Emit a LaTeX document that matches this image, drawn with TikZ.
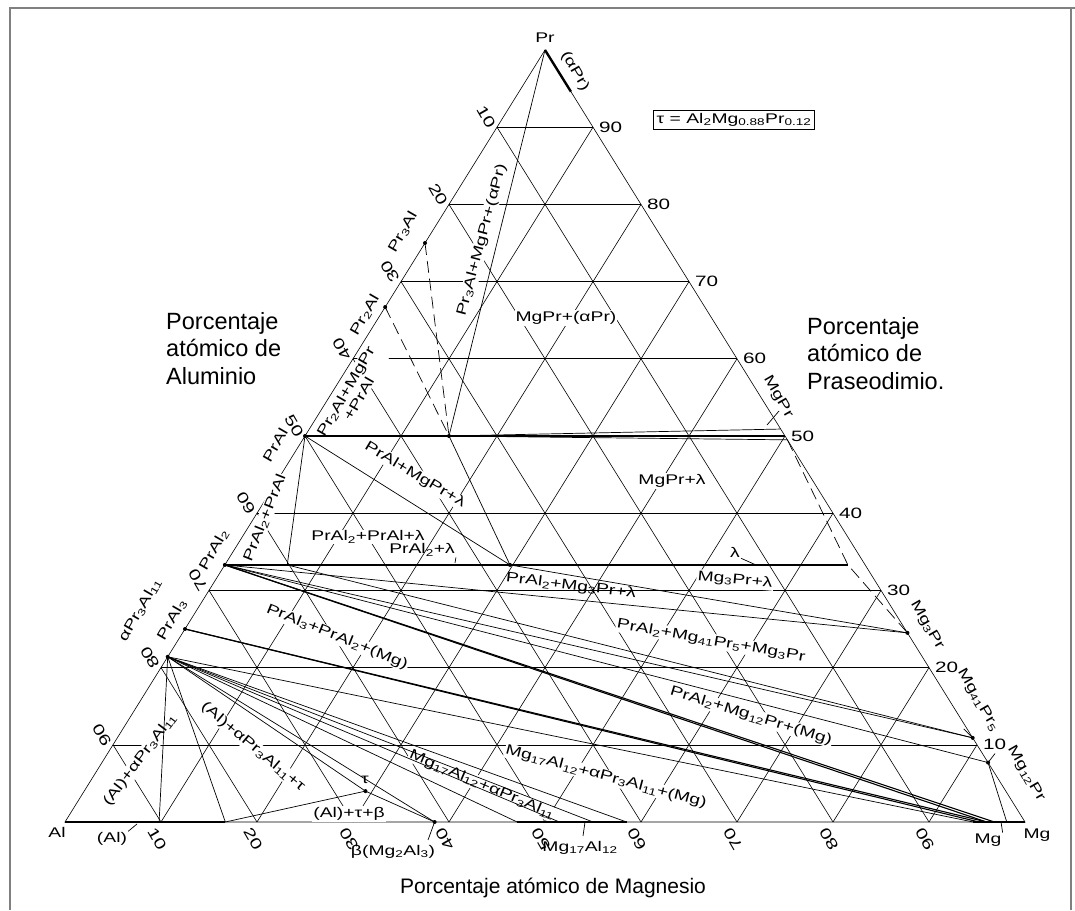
\documentclass[tikz,border=0pt]{standalone}
\usepackage{fontspec}
\setmainfont{Liberation Sans}
\newfontfamily\lblfont[FakeStretch=1.38]{Liberation Sans}
\usetikzlibrary{calc}

\tikzset{
  tern/.style={shift={(65,88)}, x={(9.6pt,0pt)}, y={(4.8pt,7.72pt)}},
  gridline/.style={line width=0.6pt},
  phase/.style={line width=0.7pt},
  solvus/.style={line width=2.4pt},
  dashline/.style={line width=0.7pt, dash pattern=on 12pt off 6pt},
  lbl/.style={font=\lblfont\fontsize{14}{15}\selectfont, inner sep=1pt, fill=white},
  num/.style={font=\lblfont\fontsize{15}{16}\selectfont, inner sep=1pt},
  title/.style={font=\fontsize{23.5}{27.5}\selectfont, align=left, inner sep=0pt},
}

\begin{document}
\begin{tikzpicture}[x=1pt,y=1pt]
\useasboundingbox (0,0) rectangle (1075,910);
% frame of the figure
\draw[black!50, line width=1.2pt] (10,0) -- (10,902) -- (1075,902);
\draw[black!50, line width=1.2pt] (1071,902) -- (1071,0);

\begin{scope}[tern]
  % corners and phases (Mg, Pr)
  \coordinate (Al) at (0,0);
  \coordinate (Mg) at (100,0);
  \coordinate (Pr) at (0,100);
  \coordinate (aPr) at (5.4,94.6);
  \coordinate (Pr3Al) at (0,75);
  \coordinate (Pr2Al) at (0,66.7);
  \coordinate (PrAl) at (0,50);
  \coordinate (MgPrA) at (15,50);
  \coordinate (MgPrB) at (49.1,50.9);
  \coordinate (MgPrC) at (50,50);
  \coordinate (MgPrD) at (50.5,49.5);
  \coordinate (PrAl2) at (0,33.3);
  \coordinate (PrAl2e) at (6.5,33.3);
  \coordinate (lamL) at (29.7,33.3);
  \coordinate (lamR) at (64.9,33.3);
  \coordinate (PrAl3) at (0,25);
  \coordinate (Pr3Al11) at (0,21.4);
  \coordinate (Mg3Pr) at (75.5,24.5);
  \coordinate (Mg41Pr5) at (89.1,10.9);
  \coordinate (Mg12Pr) at (92.3,7.7);
  \coordinate (MgssA) at (94.6,0);
  \coordinate (MgssB) at (95.2,0);
  \coordinate (MgssC) at (96,0);
  \coordinate (MgssD) at (96.8,0);
  \coordinate (MgssE) at (98.1,0);
  \coordinate (Alss) at (16.7,0);
  \coordinate (tau) at (29.3,4);
  \coordinate (beta) at (38.5,0);
  \coordinate (MgAlA) at (47.1,0);
  \coordinate (MgAlB) at (58.5,0);

  % grid
  \foreach \p in {10,20,...,90}{
    \draw[gridline] (0,\p) -- ({100-\p},\p);
    \draw[gridline] (\p,0) -- (\p,{100-\p});
    \draw[gridline] (\p,0) -- (0,\p);
  }
  \draw[gridline] (Al) -- (Mg) -- (Pr) -- cycle;

  % scale numbers
  \foreach \p in {10,20,...,90}
    \node[num, anchor=west] (r\p) at ($({100-\p},\p)+(5pt,0pt)$) {\p};
  \foreach \p/\r in {90/-60,80/-60,70/120,60/120,50/-60,40/120,30/120,20/120,10/120}
    \node[num, rotate=\r] (l\p) at ($(0,\p)+(-11pt,10pt)$) {\the\numexpr100-\p\relax};
  \foreach \p/\r in {10/-60,20/-60,30/120,40/120,50/120,60/120,70/120,80/120,90/120}
    \node[num, rotate=\r] (b\p) at ($(\p,0)+(-4pt,-17pt)$) {\p};
\end{scope}

% corner labels
\node[lbl, fill=none] (nPr) at (545,872) {Pr};
\node[lbl, fill=none] (nAl) at (57,78) {Al};
\node[lbl, fill=none] (nMg) at (1037,75) {Mg};

% compound labels
\node[lbl, rotate=-60] (naPr) at (575,839) {(αPr)};
\node[lbl, rotate=60] (nPr3Al) at (403,678) {Pr\textsubscript{3}Al};
\node[lbl, rotate=60] (nPr2Al) at (365,595) {Pr\textsubscript{2}Al};
\node[lbl, rotate=60] (nPrAl) at (275,465) {PrAl};
\node[lbl, rotate=60] (nPrAl2) at (214,360) {PrAl\textsubscript{2}};
\node[lbl, rotate=60] (nPrAl3) at (172,290) {PrAl\textsubscript{3}};
\node[lbl, rotate=60] (nPr3Al11) at (140,300) {αPr\textsubscript{3}Al\textsubscript{11}};
\node[lbl, rotate=-60] (nMgPr) at (778,513) {MgPr};
\node[lbl, rotate=-60] (nMg3Pr) at (927,285) {Mg\textsubscript{3}Pr};
\node[lbl, rotate=-60] (nMg41Pr5) at (978,210) {Mg\textsubscript{41}Pr\textsubscript{5}};
\node[lbl, rotate=-60] (nMg12Pr) at (1026,136) {Mg\textsubscript{12}Pr};
\node[lbl, fill=none] (nMgss) at (988,70) {Mg};
\node[lbl, fill=none] (nAlss) at (112,71) {(Al)};
\node[lbl, fill=none] (nbeta) at (393,58) {β(Mg\textsubscript{2}Al\textsubscript{3})};
\node[lbl, fill=none] (nMg17) at (580,62) {Mg\textsubscript{17}Al\textsubscript{12}};
\node[lbl] (ntau) at (365,130) {τ};
\node[lbl] (nlam) at (735,358) {λ};

% phase field labels
\node[lbl, rotate=75] (f1) at (482,670) {Pr\textsubscript{3}Al+MgPr+(αPr)};
\node[lbl] (f2) at (566,592) {MgPr+(αPr)};
\node[lbl, rotate=60, align=center] (f3) at (352,515) {Pr\textsubscript{2}Al+MgPr\\+PrAl};
\node[lbl] (f4) at (672,429) {MgPr+λ};
\node[lbl, rotate=-31] (f5) at (415,435) {PrAl+MgPr+λ};
\node[lbl] (f6) at (368,373) {PrAl\textsubscript{2}+PrAl+λ};
\node[lbl, fill=none] (f7) at (422,360) {PrAl\textsubscript{2}+λ};
\node[lbl, rotate=68] (f8) at (265,392) {PrAl\textsubscript{2}+PrAl};
\node[lbl, fill=none, rotate=-7] (f9) at (571,324) {PrAl\textsubscript{2}+Mg\textsubscript{3}Pr+λ};
\node[lbl, rotate=-5] (f10) at (735,330) {Mg\textsubscript{3}Pr+λ};
\node[lbl, rotate=-10] (f11) at (711,269) {PrAl\textsubscript{2}+Mg\textsubscript{41}Pr\textsubscript{5}+Mg\textsubscript{3}Pr};
\node[lbl, rotate=-17] (f12) at (751,194) {PrAl\textsubscript{2}+Mg\textsubscript{12}Pr+(Mg)};
\node[lbl, rotate=-22] (f13) at (337,273) {PrAl\textsubscript{3}+PrAl\textsubscript{2}+(Mg)};
\node[lbl, rotate=-15] (f14) at (606,133) {Mg\textsubscript{17}Al\textsubscript{12}+αPr\textsubscript{3}Al\textsubscript{11}+(Mg)};
\node[lbl, rotate=-23] (f15) at (482,125) {Mg\textsubscript{17}Al\textsubscript{12}+αPr\textsubscript{3}Al\textsubscript{11}};
\node[lbl, rotate=-40] (f16) at (253,163) {(Al)+αPr\textsubscript{3}Al\textsubscript{11}+τ};
\node[lbl, rotate=53] (f17) at (140,150) {(Al)+αPr\textsubscript{3}Al\textsubscript{11}};
\node[lbl] (f18) at (349,96) {(Al)+τ+β};

% formula of tau
\node[lbl, draw, line width=0.8pt, inner sep=3pt] (taubox) at (734,790)
  {τ = Al\textsubscript{2}Mg\textsubscript{0.88}Pr\textsubscript{0.12}};

% axis titles
\node[title, anchor=north west] (tAl) at (166,598) {Porcentaje\\atómico de\\Aluminio};
\node[title, anchor=north west] (tPr) at (807,593) {Porcentaje\\atómico de\\Praseodimio.};
\node[title, font=\fontsize{21}{25}\selectfont] (tMg) at (553,22) {Porcentaje atómico de Magnesio};

\begin{scope}[tern]
  % phase boundaries and tie lines
  \draw[solvus] (Pr) -- (aPr);
  \draw[phase] (Pr) -- (MgPrA);
  \draw[dashline] (Pr3Al) -- (MgPrA);
  \draw[dashline] (Pr2Al) -- (MgPrA);
  \draw[phase, line width=1.5pt] (PrAl) -- (MgPrA);
  \draw[phase] (MgPrA) -- (MgPrB);
  \draw[phase, line width=1.2pt] (MgPrA) -- (MgPrC);
  \draw[phase] (MgPrA) -- (MgPrD);
  \draw[phase] (PrAl) -- (lamL);
  \draw[phase] (MgPrA) -- (lamL);
  \draw[phase] (PrAl) -- (PrAl2e);
  \draw[solvus] (PrAl2) -- (PrAl2e);
  \draw[phase, line width=1.5pt] (PrAl2e) -- (lamL);
  \draw[solvus] (lamL) -- (lamR);
  \draw[dashline] (MgPrD) -- (lamR) -- (Mg3Pr);
  \draw[phase] (lamL) -- (Mg3Pr);
  \draw[phase] (PrAl2) -- (Mg3Pr);
  \draw[phase] (PrAl2) -- (Mg41Pr5);
  \draw[phase] (PrAl2e) -- (Mg41Pr5);
  \draw[phase] (PrAl2) -- (Mg12Pr);
  \draw[phase, line width=1.1pt] (PrAl2) -- (MgssC);
  \draw[phase, line width=1.1pt] (PrAl2) -- (MgssD);
  \draw[phase] (Mg12Pr) -- (MgssE);
  \draw[phase, line width=1.1pt] (PrAl3) -- (MgssB);
  \draw[phase, line width=1.1pt] (PrAl3) -- (MgssC);
  \draw[phase] (Pr3Al11) -- (MgssA);
  \draw[phase] (Pr3Al11) -- (MgAlB);
  \draw[phase] (Pr3Al11) -- (55,0);
  \draw[phase] (Pr3Al11) -- (51.5,0);
  \draw[phase] (Pr3Al11) -- (MgAlA);
  \draw[phase] (Pr3Al11) -- (beta);
  \draw[phase] (Pr3Al11) -- (tau);
  \draw[phase] (Pr3Al11) -- (Alss);
  \draw[phase] (Pr3Al11) -- (9.8,0);
  \draw[phase] (Alss) -- (tau) -- (beta);
  \draw[solvus] (Al) -- (Alss);
  \draw[solvus] (MgAlA) -- (MgAlB);
  \draw[solvus] (MgssA) -- (Mg);
  % compounds
  \foreach \c in {Pr3Al,Pr2Al,PrAl,PrAl2,PrAl3,Pr3Al11,MgPrA,lamL,Mg3Pr,Mg41Pr5,Mg12Pr,tau,beta}
    \fill (\c) circle (2pt);
\end{scope}

% leaders
\draw[phase] (nlam.south east) -- (756,345);
\draw[phase] (767,485) -- (779,499);
\draw[phase] (Mg41Pr5) -- ++(-9pt,9pt);
\draw[phase] (Mg12Pr) -- ++(7pt,9pt);
\draw[phase] (nAlss.north east) -- (137,86);
\draw[phase] (beta) -- (428,70);
\draw[phase] (585,88) -- (583,74);
\draw[phase] (nMgss.north east) -- (1001,88);
\draw[phase] (f7.south east) -- (455,347);
\end{tikzpicture}
\end{document}
